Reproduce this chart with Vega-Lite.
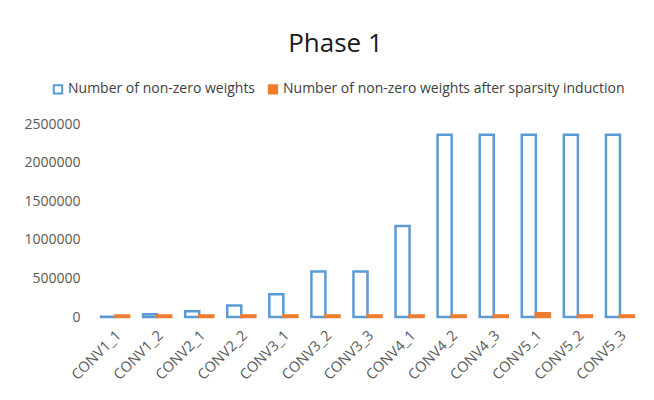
{
  "$schema": "https://vega.github.io/schema/vega-lite/v6.json",
  "width": 547,
  "height": 193,
  "autosize": {"type": "none"},
  "padding": {"left": 94, "top": 124, "right": 13, "bottom": 83},
  "background": "white",
  "title": {
    "text": "Phase 1",
    "font": "Open Sans",
    "fontSize": 26,
    "fontWeight": "normal",
    "color": "#1a1a1a",
    "anchor": "middle",
    "frame": "group",
    "baseline": "alphabetic",
    "dx": -32,
    "offset": 4
  },
  "data": {
    "values": [
      {"layer": "CONV1_1", "series": "Number of non-zero weights", "value": 1728},
      {"layer": "CONV1_2", "series": "Number of non-zero weights", "value": 36864},
      {"layer": "CONV2_1", "series": "Number of non-zero weights", "value": 73728},
      {"layer": "CONV2_2", "series": "Number of non-zero weights", "value": 147456},
      {"layer": "CONV3_1", "series": "Number of non-zero weights", "value": 294912},
      {"layer": "CONV3_2", "series": "Number of non-zero weights", "value": 589824},
      {"layer": "CONV3_3", "series": "Number of non-zero weights", "value": 589824},
      {"layer": "CONV4_1", "series": "Number of non-zero weights", "value": 1179648},
      {"layer": "CONV4_2", "series": "Number of non-zero weights", "value": 2359296},
      {"layer": "CONV4_3", "series": "Number of non-zero weights", "value": 2359296},
      {"layer": "CONV5_1", "series": "Number of non-zero weights", "value": 2359296},
      {"layer": "CONV5_2", "series": "Number of non-zero weights", "value": 2359296},
      {"layer": "CONV5_3", "series": "Number of non-zero weights", "value": 2359296},
      {"layer": "CONV1_1", "series": "Number of non-zero weights after sparsity induction", "value": 20000},
      {"layer": "CONV1_2", "series": "Number of non-zero weights after sparsity induction", "value": 20000},
      {"layer": "CONV2_1", "series": "Number of non-zero weights after sparsity induction", "value": 20000},
      {"layer": "CONV2_2", "series": "Number of non-zero weights after sparsity induction", "value": 20000},
      {"layer": "CONV3_1", "series": "Number of non-zero weights after sparsity induction", "value": 20000},
      {"layer": "CONV3_2", "series": "Number of non-zero weights after sparsity induction", "value": 20000},
      {"layer": "CONV3_3", "series": "Number of non-zero weights after sparsity induction", "value": 20000},
      {"layer": "CONV4_1", "series": "Number of non-zero weights after sparsity induction", "value": 20000},
      {"layer": "CONV4_2", "series": "Number of non-zero weights after sparsity induction", "value": 20000},
      {"layer": "CONV4_3", "series": "Number of non-zero weights after sparsity induction", "value": 20000},
      {"layer": "CONV5_1", "series": "Number of non-zero weights after sparsity induction", "value": 50000},
      {"layer": "CONV5_2", "series": "Number of non-zero weights after sparsity induction", "value": 20000},
      {"layer": "CONV5_3", "series": "Number of non-zero weights after sparsity induction", "value": 20000}
    ]
  },
  "mark": {"type": "bar", "strokeWidth": 2.5},
  "encoding": {
    "x": {
      "field": "layer",
      "type": "nominal",
      "sort": null,
      "scale": {"paddingInner": 0.333, "paddingOuter": 0.1667},
      "axis": {
        "title": null,
        "labelAngle": -45,
        "labelAlign": "right",
        "labelBaseline": "middle",
        "labelFont": "Open Sans",
        "labelFontSize": 14.5,
        "labelColor": "#595959",
        "labelPadding": 16,
        "labelOffset": 4,
        "ticks": false,
        "domain": false
      }
    },
    "xOffset": {
      "field": "series",
      "type": "nominal",
      "sort": ["Number of non-zero weights", "Number of non-zero weights after sparsity induction"],
      "scale": {"paddingInner": 0, "paddingOuter": 0}
    },
    "y": {
      "field": "value",
      "type": "quantitative",
      "scale": {"domain": [0, 2500000], "nice": false},
      "axis": {
        "title": null,
        "values": [0, 500000, 1000000, 1500000, 2000000, 2500000],
        "format": "d",
        "grid": false,
        "ticks": false,
        "domain": false,
        "labelFont": "Open Sans",
        "labelFontSize": 14,
        "labelColor": "#595959",
        "labelPadding": 14
      }
    },
    "fill": {
      "field": "series",
      "type": "nominal",
      "scale": {
        "domain": ["Number of non-zero weights", "Number of non-zero weights after sparsity induction"],
        "range": ["#ffffff", "#ED7D31"]
      },
      "legend": {
        "title": null,
        "orient": "none",
        "legendX": -43,
        "legendY": -42,
        "direction": "horizontal",
        "columns": 2,
        "columnPadding": 8,
        "symbolType": "square",
        "symbolSize": 70,
        "symbolStrokeWidth": 2,
        "labelFont": "Open Sans",
        "labelFontSize": 14,
        "labelColor": "#404040",
        "labelOffset": 3,
        "labelLimit": 0
      }
    },
    "stroke": {
      "field": "series",
      "type": "nominal",
      "scale": {
        "domain": ["Number of non-zero weights", "Number of non-zero weights after sparsity induction"],
        "range": ["#5B9BD5", "#ED7D31"]
      },
      "legend": {
        "title": null,
        "orient": "none",
        "legendX": -43,
        "legendY": -42,
        "direction": "horizontal",
        "columns": 2,
        "columnPadding": 8,
        "symbolType": "square",
        "symbolSize": 70,
        "symbolStrokeWidth": 2,
        "labelFont": "Open Sans",
        "labelFontSize": 14,
        "labelColor": "#404040",
        "labelOffset": 3,
        "labelLimit": 0
      }
    }
  },
  "config": {"view": {"stroke": null}}
}
